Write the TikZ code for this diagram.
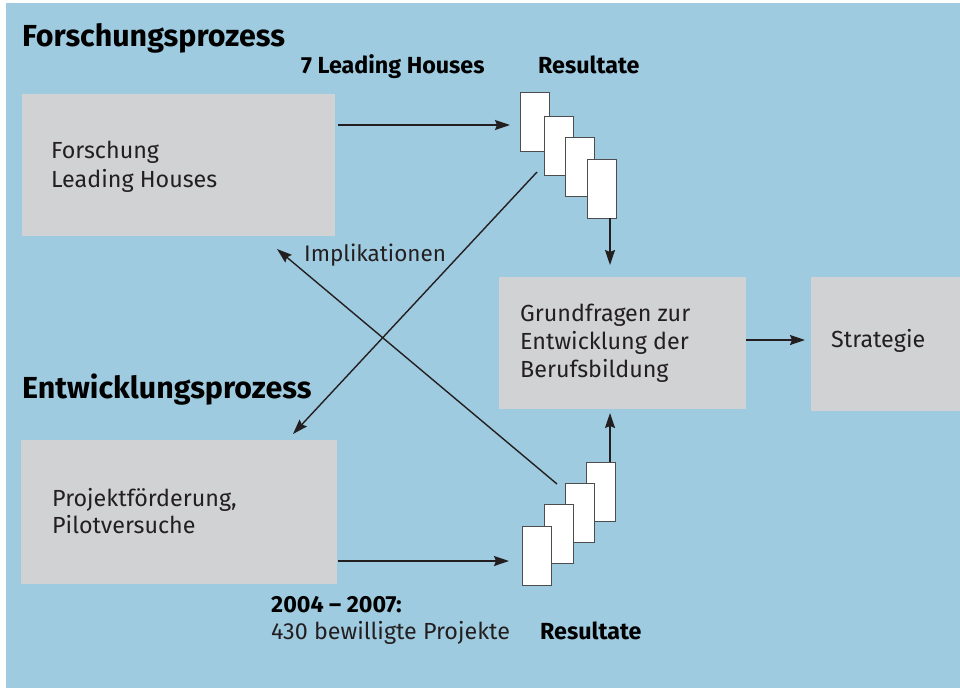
\documentclass[tikz,border=0pt]{standalone}
\usepackage{fontspec}
\setmainfont{Fira Sans}
\usetikzlibrary{arrows.meta}
\definecolor{bgblue}{HTML}{9ECBE0}
\definecolor{boxgray}{HTML}{D1D2D4}
\definecolor{ink}{HTML}{231F20}
\definecolor{docedge}{HTML}{4D4D4F}
\begin{document}
\begin{tikzpicture}[x=1pt,y=-1pt,
  box/.style={fill=boxgray, draw=none, inner sep=0pt, outer sep=0pt, anchor=north west},
  doc/.style={fill=white, draw=docedge, line width=1pt, minimum width=29pt, minimum height=59pt, inner sep=0pt, outer sep=0pt, anchor=north west},
  arr/.style={draw=ink, line width=1.6pt, -{Stealth[length=15pt,width=10pt,inset=2pt]}},
  darr/.style={draw=ink, line width=1.4pt, -{Stealth[length=15pt,width=10pt,inset=2pt]}},
  lbl/.style={anchor=base west, inner sep=0pt, text=ink, font=\fontsize{23.3}{27}\selectfont},
  blbl/.style={anchor=base west, inner sep=0pt, text=black, font=\fontsize{23.3}{27}\selectfont\bfseries},
  head/.style={anchor=base west, inner sep=0pt, text=black, font=\fontsize{30.4}{35}\selectfont\bfseries}]
\useasboundingbox (0,0) rectangle (960,688);
\fill[white] (0,0) rectangle (960,688);
\fill[bgblue] (6,3) rectangle (960,688);

% boxes
\node[box, minimum width=313pt, minimum height=142pt] (A) at (22,94) {};
\node[box, minimum width=316pt, minimum height=144pt] (B) at (21,440) {};
\node[box, minimum width=247pt, minimum height=132pt] (C) at (499,277) {};
\node[box, minimum width=149pt, minimum height=134pt] (D) at (811,277) {};

% headings and labels
\node[head] (h1) at (22,46) {Forschungsprozess};
\node[head] (h2) at (22,398) {Entwicklungsprozess};
\node[blbl] (lh) at (301,73) {7 Leading Houses};
\node[blbl] (r1) at (538,73) {Resultate};
\node[blbl] (yr) at (271,612) {2004 – 2007:};
\node[lbl] (np) at (271,639) {430 bewilligte Projekte};
\node[blbl] (r2) at (540,639) {Resultate};

\node[lbl] (tA1) at (51,158) {Forschung};
\node[lbl] (tA2) at (51,187) {Leading Houses};
\node[lbl] (tB1) at (52,506) {Projektförderung,};
\node[lbl] (tB2) at (52,533) {Pilotversuche};
\node[lbl] (tC1) at (520,321) {Grundfragen zur};
\node[lbl] (tC2) at (520,349) {Entwicklung der};
\node[lbl] (tC3) at (520,377) {Berufsbildung};
\node[lbl] (tD) at (831,347) {Strategie};
\node[lbl, font=\fontsize{22.5}{26}\selectfont] (impl) at (304,261) {Implikationen};

% result documents (top)
\node[doc] (t1) at (520,92) {};
\node[doc] (t2) at (544,116) {};
\node[doc] (t3) at (565,137) {};
\node[doc] (t4) at (587,159) {};
% result documents (bottom)
\node[doc] (b4) at (586,462) {};
\node[doc] (b3) at (565,483) {};
\node[doc] (b2) at (544,504) {};
\node[doc] (b1) at (522,526) {};

% free ends
\coordinate (aTip) at (510,125);
\coordinate (bTip) at (509,561);
\coordinate (cTop) at (610,265);
\coordinate (cBot) at (610,413);
\coordinate (dTip) at (805,340);
\coordinate (toB) at (293,434);
\coordinate (toA) at (277,249);
\coordinate (fromT) at (537,172);
\coordinate (fromB) at (557,484);

% connectors
\draw[arr] ([xshift=3pt]A.east |- aTip) -- (aTip);
\draw[arr] ([xshift=1pt]B.east |- bTip) -- (bTip);
\draw[arr] (t4.south -| cTop) -- (cTop);
\draw[arr] (b4.north -| cBot) -- (cBot);
\draw[arr] (C.east |- dTip) -- (dTip);
\draw[darr] (fromT) -- (toB);
\draw[darr] (fromB) -- (toA);
\end{tikzpicture}
\end{document}
